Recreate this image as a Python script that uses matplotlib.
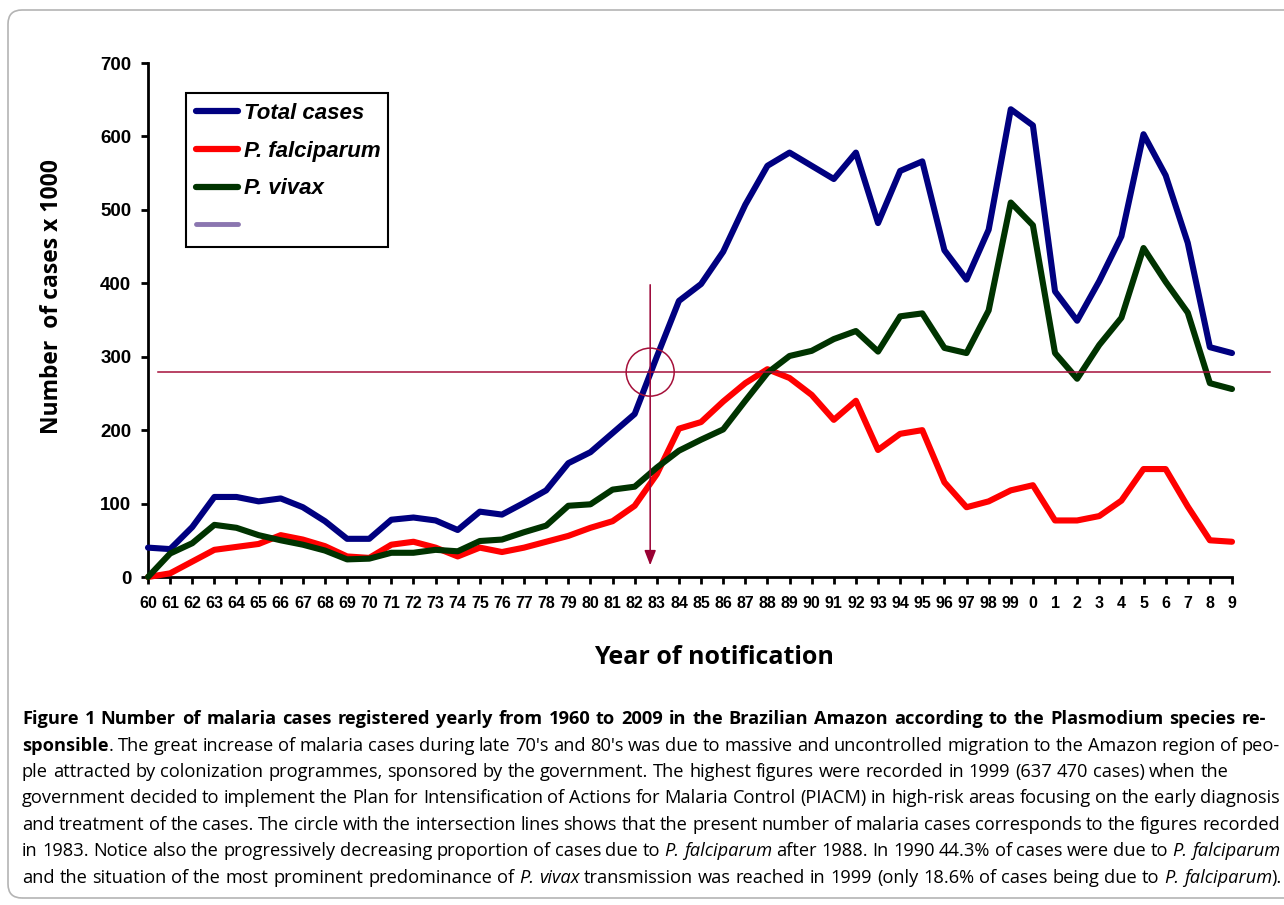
import numpy as np
import matplotlib
matplotlib.use('Agg')
import matplotlib.pyplot as plt
from matplotlib import font_manager as fm
from matplotlib.patches import Ellipse, FancyBboxPatch
from matplotlib.lines import Line2D
from matplotlib.transforms import IdentityTransform

# data, in thousands of cases
years = np.arange(1960, 2010)
year_labels = [str(y % 100) for y in years]
total = [40, 38, 68, 109, 109, 103, 107, 95, 76, 52,
         52, 78, 81, 77, 64, 89, 85, 101, 118, 155,
         170, 196, 222, 300, 376, 399, 443, 507, 560, 578,
         560, 542, 578, 482, 553, 566, 445, 405, 473, 637,
         615, 389, 349, 403, 464, 603, 547, 455, 313, 305]
falciparum = [0, 5, 21, 37, 41, 45, 57, 51, 42, 28,
              26, 44, 48, 40, 28, 40, 34, 40, 48, 56,
              67, 76, 97, 140, 202, 211, 239, 264, 283, 271,
              248, 214, 240, 173, 195, 200, 129, 95, 103, 118,
              125, 77, 77, 83, 104, 147, 147, 96, 50, 48]
vivax = [0, 32, 46, 71, 67, 57, 50, 44, 36, 24,
         25, 33, 33, 37, 35, 49, 51, 61, 70, 97,
         99, 119, 123, 149, 172, 187, 201, 240, 278, 301,
         308, 324, 335, 307, 355, 359, 312, 305, 363, 510,
         479, 305, 270, 316, 353, 448, 402, 360, 264, 256]
series_names = ['Total cases', 'P. falciparum', 'P. vivax', '']
series_colors = ['#000080', '#FF0000', '#003300', '#8B76B0']

ref_level = 279      # present number of cases
ref_year = 1982.7    # where the total crossed that level

W, H = 1284, 905
fig = plt.figure(figsize=(W / 100, H / 100), dpi=100)

# rounded frame around the whole figure
frame = FancyBboxPatch((8, H - 898), 1320, 888, boxstyle='round,pad=0,rounding_size=14',
                       transform=IdentityTransform(), fill=False, edgecolor='#b4b4b4', lw=1.2)
fig.add_artist(frame)

ax = fig.add_axes([148 / W, 1 - 577 / H, 1084 / W, 514 / H])
arial = 'Liberation Sans'

for vals, col in zip([total, falciparum, vivax], series_colors):
    ax.plot(years, vals, color=col, lw=4.4, solid_joinstyle='round', solid_capstyle='round',
            clip_on=False, zorder=3)

ax.set_xlim(1960, 2009)
ax.set_ylim(0, 700)
ax.set_xticks(years)
ax.set_xticklabels(year_labels, fontsize=11.5, fontweight='bold', family=arial)
ax.set_yticks(range(0, 701, 100))
ax.set_yticklabels([str(v) for v in range(0, 701, 100)], fontsize=13.5, fontweight='bold', family=arial)
for s in ['top', 'right']:
    ax.spines[s].set_visible(False)
for s in ['left', 'bottom']:
    ax.spines[s].set_linewidth(2)
ax.tick_params(axis='both', direction='out', length=5, width=2)
ax.tick_params(axis='x', pad=9)
ax.tick_params(axis='y', pad=7)

# reference lines: horizontal level, vertical arrow and circle
dark_red = '#A5103A'
ax.plot([1960.45, 2010.72], [ref_level, ref_level], color=dark_red, lw=1.1, clip_on=False, zorder=4)
ax.annotate('', xy=(ref_year, 16), xytext=(ref_year, 398),
            arrowprops=dict(arrowstyle='-|>,head_length=0.9,head_width=0.35', color='#990033',
                            lw=1.1, shrinkA=0, shrinkB=0), zorder=4)
ax.add_patch(Ellipse((ref_year, ref_level), 48 / 22.12, 48 / 0.7343, fill=False,
                     edgecolor=dark_red, lw=1.1, zorder=4))

# legend
handles = [Line2D([], [], color=c, lw=4.5, solid_capstyle='round') for c in series_colors]
handles[3].set_linewidth(3.5)
leg = ax.legend(handles, series_names, loc='upper left', mode='expand',
                bbox_to_anchor=(186 / W, 1 - 240 / H, 202 / W, 147 / H),
                bbox_transform=fig.transFigure, borderaxespad=0, fancybox=False,
                framealpha=1, edgecolor='black', handlelength=1.9, handletextpad=0.25,
                labelspacing=0.75, borderpad=0.45,
                prop=dict(family=arial, weight='bold', style='italic', size=16))
leg.get_frame().set_linewidth(1.5)

# axis titles
fig.text(52 / W, 1 - 297 / H, 'Number  of cases x 1000', rotation=90, ha='center', va='center',
         fontsize=16.5, fontweight='bold', family='Open Sans')
fig.text(714 / W, 1 - 657 / H, 'Year of notification', ha='center', va='center',
         fontsize=18, fontweight='bold', family='Open Sans')

# caption
names = {f.name for f in fm.fontManager.ttflist}
cap_font = 'Liberation Sans Narrow' if 'Liberation Sans Narrow' in names else 'Open Sans'

caption = [
    ([("Figure 1 Number of malaria cases registered yearly from 1960 to 2009 in the Brazilian Amazon according to the Plasmodium species re-", 'b')], 1266),
    ([("sponsible", 'b'), (". The great increase of malaria cases during late 70's and 80's was due to massive and uncontrolled migration to the Amazon region of peo-", 'n')], 1280),
    ([("ple attracted by colonization programmes, sponsored by the government. The highest figures were recorded in 1999 (637 470 cases) when the", 'n')], None),
    ([("government decided to implement the Plan for Intensification of Actions for Malaria Control (PIACM) in high-risk areas focusing on the early diagnosis", 'n')], 1280),
    ([("and treatment of the cases. The circle with the intersection lines shows that the present number of malaria cases corresponds to the figures recorded", 'n')], 1280),
    ([("in 1983. Notice also the progressively decreasing proportion of cases due to ", 'n'), ("P. falciparum", 'i'),
      (" after 1988. In 1990 44.3% of cases were due to ", 'n'), ("P. falciparum", 'i')], 1280),
    ([("and the situation of the most prominent predominance of ", 'n'), ("P. vivax", 'i'),
      (" transmission was reached in 1999 (only 18.6% of cases being due to ", 'n'), ("P. falciparum", 'i'), (").", 'n')], 1282),
]
line_y = [719, 746, 772, 798, 825, 851, 878]
x_left = 22


def split_words(segments):
    words = []
    new_word = True
    for text, style in segments:
        for i, part in enumerate(text.split(' ')):
            if i > 0:
                new_word = True
            if part == '':
                continue
            if new_word:
                words.append([(part, style)])
                new_word = False
            else:
                words[-1].append((part, style))
    return words


renderer = fig.canvas.get_renderer()


def style_kw(style, size):
    return dict(family=cap_font, size=size,
                weight='bold' if style == 'b' else 'normal',
                style='italic' if style == 'i' else 'normal')


def text_width(s, style, size):
    t = fig.text(0, 0, s, **style_kw(style, size))
    w = t.get_window_extent(renderer).width
    t.remove()
    return w


# pick a size so that the longest plain line fills the width
probe = caption[3][0][0][0]
size = 12.0
size = size * (1280 - x_left) / text_width(probe, 'n', size)
space_w = text_width('a a', 'n', size) - text_width('aa', 'n', size)

for (segments, right), y in zip(caption, line_y):
    words = split_words(segments)
    widths = [[text_width(p, st, size) for p, st in w] for w in words]
    word_w = [sum(w) for w in widths]
    gap = space_w
    if right is not None and len(words) > 1:
        gap = (right - x_left - sum(word_w)) / (len(words) - 1)
    x = x_left
    for w, ws in zip(words, widths):
        for (p, st), pw in zip(w, ws):
            fig.text(x / W, 1 - y / H, p, ha='left', va='center', **style_kw(st, size))
            x += pw
        x += gap

fig.savefig('out.png', dpi=100)
